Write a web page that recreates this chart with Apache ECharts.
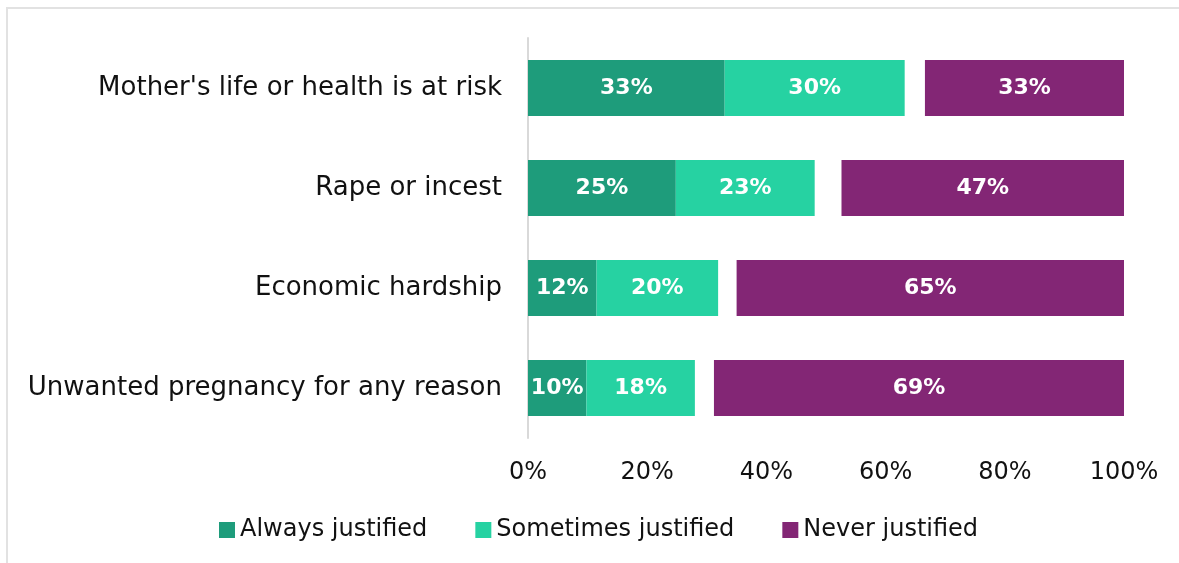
<!DOCTYPE html>
<html>
<head>
<meta charset="utf-8">
<script src="https://cdn.jsdelivr.net/npm/echarts@6/dist/echarts.min.js"></script>
<style>
  html, body { margin: 0; padding: 0; background: #fff; }
  #one { width: 1179px; height: 563px; }
</style>
</head>
<body>
<div id="one"></div>
<script>
var categories = ["Mother's life or health is at risk", 'Rape or incest', 'Economic hardship', 'Unwanted pregnancy for any reason'];
var always = [33.0, 24.8, 11.5, 9.8];
var sometimes = [30.2, 23.3, 20.4, 18.2];
var dontKnow = [3.4, 4.5, 3.1, 3.2];
var never = [33.4, 47.4, 65.0, 68.8];
var xTicks = [0, 20, 40, 60, 80, 100];

var font = 'DejaVu Sans';
var myChart = echarts.init(document.getElementById('one'));

var barLabel = {
    show: true,
    position: 'inside',
    color: '#fff',
    fontFamily: font,
    fontWeight: 'bold',
    fontSize: 22,
    formatter: function (p) { return Math.round(p.value) + '%'; }
};

option = {
    animation: false,
    backgroundColor: '#fff',
    graphic: [{
        type: 'rect',
        shape: { x: 7, y: 8, width: 1200, height: 600 },
        style: { fill: 'none', stroke: '#e2e2e2', lineWidth: 2 }
    }],
    legend: {
        data: ['Always justified', 'Sometimes justified', 'Never justified'],
        left: 214,
        top: 513,
        icon: 'rect',
        itemWidth: 16,
        itemHeight: 16,
        itemGap: 48,
        textStyle: { color: '#111', fontFamily: font, fontSize: 24 }
    },
    grid: { left: 528, right: 55, top: 38, bottom: 125 },
    xAxis: {
        type: 'value',
        min: 0,
        max: 100,
        interval: 20,
        axisLine: { show: false },
        axisTick: { show: false },
        splitLine: { show: false },
        axisLabel: {
            color: '#111',
            fontFamily: font,
            fontSize: 24,
            margin: 23,
            formatter: function (v) { return xTicks.indexOf(v) >= 0 ? v + '%' : ''; }
        }
    },
    yAxis: {
        type: 'category',
        inverse: true,
        data: categories,
        axisLine: { show: true, lineStyle: { color: '#d9d9d9', width: 2 } },
        axisTick: { show: false },
        axisLabel: { color: '#111', fontFamily: font, fontSize: 26, margin: 26 }
    },
    series: [
        {
            name: 'Always justified', type: 'bar', stack: 'total', barWidth: '56%',
            itemStyle: { color: '#1e9c7b' }, label: barLabel, data: always
        },
        {
            name: 'Sometimes justified', type: 'bar', stack: 'total',
            itemStyle: { color: '#26d2a2' }, label: barLabel, data: sometimes
        },
        {
            name: "Don't know", type: 'bar', stack: 'total',
            itemStyle: { color: 'rgba(0,0,0,0)' }, label: { show: false },
            emphasis: { disabled: true }, data: dontKnow
        },
        {
            name: 'Never justified', type: 'bar', stack: 'total',
            itemStyle: { color: '#832675' }, label: barLabel, data: never
        }
    ]
};
myChart.setOption(option);
</script>
</body>
</html>
